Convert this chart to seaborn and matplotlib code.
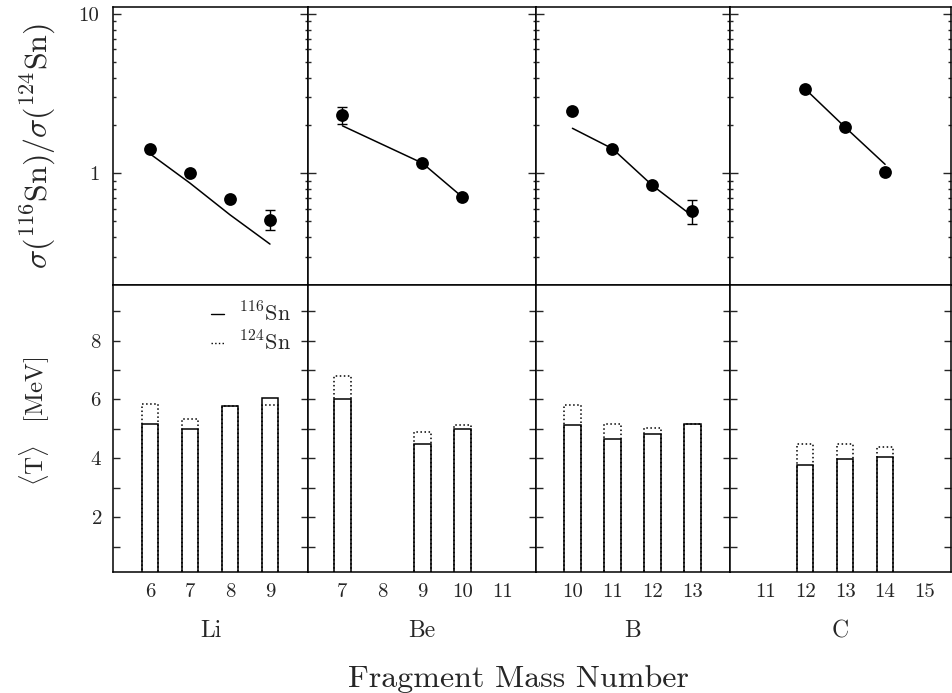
import matplotlib
matplotlib.use("Agg")
import matplotlib.pyplot as plt
import seaborn as sns
from matplotlib.lines import Line2D

# --- data ---
elements = ["Li", "Be", "B", "C"]

# fragment mass numbers of the measured isotopes
li_mass = [6, 7, 8, 9]
be_mass = [7, 9, 10]
b_mass = [10, 11, 12, 13]
c_mass = [12, 13, 14]

# measured ratio sigma(116Sn)/sigma(124Sn)
li_ratio = [1.43, 1.00, 0.69, 0.51]
be_ratio = [2.33, 1.16, 0.71]
b_ratio = [2.48, 1.43, 0.84, 0.58]
c_ratio = [3.39, 1.95, 1.02]

# error bar ends (equal to the value where the bar hides under the marker)
li_lo = [1.43, 1.00, 0.69, 0.44]
li_hi = [1.43, 1.00, 0.69, 0.59]
be_lo = [2.05, 1.16, 0.71]
be_hi = [2.63, 1.16, 0.71]
b_lo = [2.48, 1.43, 0.84, 0.48]
b_hi = [2.48, 1.43, 0.84, 0.68]
c_lo = [3.39, 1.95, 1.02]
c_hi = [3.39, 1.95, 1.02]

# calculated ratio (solid line)
li_calc = [1.33, 0.87, 0.55, 0.36]
be_calc = [1.99, 1.16, 0.71]
b_calc = [1.92, 1.43, 0.84, 0.54]
c_calc = [3.39, 1.95, 1.14]

# mean kinetic energy <T> in MeV
li_t116 = [5.15, 4.98, 5.77, 6.06]
li_t124 = [5.86, 5.34, 5.77, 5.81]
be_t116 = [6.00, 4.49, 5.01]
be_t124 = [6.80, 4.91, 5.13]
b_t116 = [5.13, 4.65, 4.83, 5.18]
b_t124 = [5.81, 5.18, 5.03, 5.18]
c_t116 = [3.78, 3.98, 4.06]
c_t124 = [4.50, 4.49, 4.38]

# mass labels under each panel
li_ticks = [6, 7, 8, 9]
be_ticks = [7, 8, 9, 10, 11]
b_ticks = [10, 11, 12, 13]
c_ticks = [11, 12, 13, 14, 15]

panels = [
    (li_mass, li_ratio, li_lo, li_hi, li_calc, li_t116, li_t124, li_ticks, (5.08, 9.95)),
    (be_mass, be_ratio, be_lo, be_hi, be_calc, be_t116, be_t124, be_ticks, (6.14, 11.84)),
    (b_mass, b_ratio, b_lo, b_hi, b_calc, b_t116, b_t124, b_ticks, (9.09, 13.94)),
    (c_mass, c_ratio, c_lo, c_hi, c_calc, c_t116, c_t124, c_ticks, (10.12, 15.65)),
]

sns.set_theme(style="ticks")
plt.rcParams["font.family"] = "serif"
plt.rcParams["font.serif"] = ["cmr10", "DejaVu Serif"]
plt.rcParams["mathtext.fontset"] = "cm"
plt.rcParams["axes.formatter.use_mathtext"] = True
plt.rcParams["axes.linewidth"] = 1.1
plt.rcParams["axes.edgecolor"] = "black"

fig = plt.figure(figsize=(9.52, 6.93), dpi=100)
gs = fig.add_gridspec(2, 4, width_ratios=[195, 228, 194, 221], height_ratios=[278, 287],
                      left=0.1187, right=0.999, top=0.990, bottom=0.1753,
                      hspace=0, wspace=0)

for i, (mass, ratio, lo, hi, calc, t116, t124, ticks, xlim) in enumerate(panels):
    # top row: cross-section ratio on a log scale
    ax = fig.add_subplot(gs[0, i])
    sns.lineplot(x=mass, y=calc, color="black", linewidth=1.1, ax=ax)
    sns.scatterplot(x=mass, y=ratio, color="black", s=85, edgecolor="black",
                    linewidth=0, zorder=3, ax=ax)
    ex = [m for m, l, h in zip(mass, lo, hi) if h > l]
    ey = [r for r, l, h in zip(ratio, lo, hi) if h > l]
    elo = [r - l for r, l, h in zip(ratio, lo, hi) if h > l]
    ehi = [h - r for r, l, h in zip(ratio, lo, hi) if h > l]
    if ex:
        ax.errorbar(ex, ey, yerr=[elo, ehi], fmt="none", ecolor="black",
                    elinewidth=1.0, capsize=3.5, capthick=1.0)
    ax.set_yscale("log")
    ax.set_ylim(0.2, 11.1)
    ax.set_xlim(*xlim)
    ax.set_yticks([1, 10])
    ax.set_yticks([0.3, 0.4, 0.5, 0.6, 0.7, 0.8, 0.9, 2, 3, 4, 5, 6, 7, 8, 9], minor=True)
    ax.set_yticklabels(["1", "10"])
    ax.yaxis.set_minor_formatter(plt.NullFormatter())
    ax.tick_params(axis="y", which="both", direction="in", left=True, right=True,
                   width=1.0, labelsize=15, pad=10, labelleft=(i == 0))
    ax.tick_params(axis="y", which="major", length=6)
    ax.tick_params(axis="y", which="minor", length=2.5)
    ax.tick_params(axis="x", which="both", bottom=False, labelbottom=False)
    ax.set_xlabel("")
    ax.set_ylabel("")

    # bottom row: mean kinetic energy, 124Sn dotted behind 116Sn solid
    bx = fig.add_subplot(gs[1, i])
    sns.barplot(x=mass, y=t124, native_scale=True, width=0.41, fill=False,
                color="black", linestyle=":", linewidth=1.1, errorbar=None, ax=bx)
    sns.barplot(x=mass, y=t116, native_scale=True, width=0.41, fill=False,
                color="black", linestyle="-", linewidth=1.1, errorbar=None, ax=bx)
    bx.set_xlim(*xlim)
    bx.set_ylim(0.15, 9.9)
    bx.set_yticks([2, 4, 6, 8])
    bx.set_yticks([1, 3, 5, 7, 9], minor=True)
    bx.tick_params(axis="y", which="both", direction="in", left=True, right=True,
                   length=5, width=1.0, labelsize=15, pad=8, labelleft=(i == 0))
    bx.set_xticks(ticks)
    bx.set_xticklabels([str(t) for t in ticks])
    bx.tick_params(axis="x", which="both", length=0, labelsize=15, pad=8)
    bx.set_xlabel("")
    bx.set_ylabel("")
    bx.text(0.5, -0.208, elements[i], transform=bx.transAxes, ha="center",
            va="center", fontsize=17)

    if i == 0:
        handles = [Line2D([], [], color="black", linewidth=1.0, linestyle="-"),
                   Line2D([], [], color="black", linewidth=1.0, linestyle=":")]
        bx.legend(handles, [r"$^{116}\mathrm{Sn}$", r"$^{124}\mathrm{Sn}$"],
                  loc="upper right", bbox_to_anchor=(1.0, 1.0), frameon=False,
                  fontsize=16, handlelength=0.6, handletextpad=0.7,
                  labelspacing=0.25, borderaxespad=0.35)

fig.text(0.040, 0.790, r"$\sigma(^{116}\mathrm{Sn})/\sigma(^{124}\mathrm{Sn})$",
         rotation=90, ha="center", va="center", fontsize=23)
fig.text(0.037, 0.392, r"$\langle\mathrm{T}\rangle\quad[\mathrm{MeV}]$",
         rotation=90, ha="center", va="center", fontsize=18)
fig.text(0.545, 0.020, "Fragment Mass Number", ha="center", va="center", fontsize=23)

fig.savefig("out.png", dpi=100)
